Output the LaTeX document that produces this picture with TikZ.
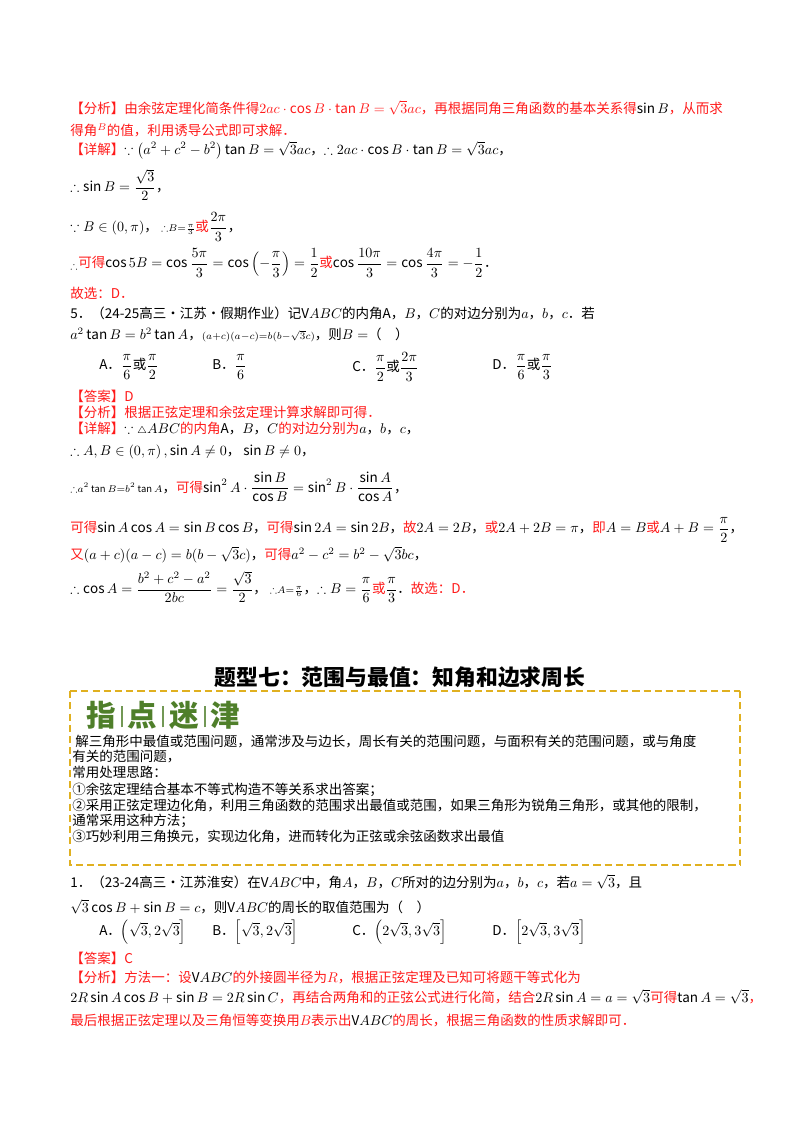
\documentclass[tikz,border=0pt]{standalone}
\usepackage{amsmath,amssymb}
\usepackage{fontspec}
\setmainfont{Noto Sans CJK SC}
\definecolor{rd}{HTML}{FF1A1A}
\definecolor{gold}{HTML}{E0B020}
\definecolor{grn}{HTML}{4F7F2A}
\begin{document}
\begin{tikzpicture}[x=0.025cm,y=-0.025cm,
  t/.style={anchor=west,inner sep=0pt,font=\fontsize{9.6}{11}\selectfont},
  r/.style={t,text=rd},
  gd/.style={gold,line width=1.2pt,dash pattern=on 5pt off 3pt}]
\useasboundingbox (0,0) rectangle (800,1132);
\fill[white] (0,0) rectangle (800,1132);
\node[r] (l1) at (70,108) {【分析】由余弦定理化简条件得$2ac\cdot\cos B\cdot\tan B=\sqrt{3}ac$，再根据同角三角函数的基本关系得\textcolor{black}{$\sin B$}，从而求};
\node[r] (l2) at (70,130) {得角$^{B}$的值，利用诱导公式即可求解．};
\node[t] (l3) at (70,150) {\textcolor{rd}{【详解】}$\because\left(a^2+c^2-b^2\right)\tan B=\sqrt{3}ac$，$\therefore 2ac\cdot\cos B\cdot\tan B=\sqrt{3}ac$，};
\node[t] (l4) at (70,185) {$\therefore\sin B=\dfrac{\sqrt3}{2}$，};
\node[t] (l5) at (70,227) {$\because B\in(0,\pi)$，\ $\scriptstyle\therefore B=\frac{\pi}{3}$\textcolor{rd}{或}$\dfrac{2\pi}{3}$，};
\node[t] (l6) at (70,263) {$_{\therefore}$\textcolor{rd}{可得}$\cos5B=\cos\dfrac{5\pi}{3}=\cos\left(-\dfrac{\pi}{3}\right)=\dfrac12$\textcolor{rd}{或}$\cos\dfrac{10\pi}{3}=\cos\dfrac{4\pi}{3}=-\dfrac12$．};
\node[r] (l7) at (70,293) {故选：D．};
\node[t] (l8) at (70,313) {5．（24-25高三·江苏·假期作业）记V$ABC$的内角A，$B$，$C$的对边分别为$a$，$b$，$c$．若};
\node[t] (l9) at (70,335) {$a^2\tan B=b^2\tan A$，$\scriptstyle (a+c)(a-c)=b(b-\sqrt3c)$，则$B=$（\quad）};
\node[t] (oa) at (99,367) {A．$\dfrac{\pi}{6}$或$\dfrac{\pi}{2}$};
\node[t] (ob) at (212,367) {B．$\dfrac{\pi}{6}$};
\node[t] (oc) at (352,367) {C．$\dfrac{\pi}{2}$或$\dfrac{2\pi}{3}$};
\node[t] (od) at (492,367) {D．$\dfrac{\pi}{6}$或$\dfrac{\pi}{3}$};
\node[r] (m1) at (70,396) {【答案】D};
\node[r] (m2) at (70,412) {【分析】根据正弦定理和余弦定理计算求解即可得．};
\node[r] (m3) at (70,429) {【详解】\textcolor{black}{$\because{\scriptstyle\triangle}ABC$}的内角\textcolor{black}{A，$B$，$C$}的对边分别为\textcolor{black}{$a$，$b$，$c$，}};
\node[t] (m4) at (70,452) {$\therefore A,B\in\left(0,\pi\right),\sin A\neq0$，$\ \sin B\neq0$，};
\node[t] (m5) at (70,487) {$\scriptstyle\therefore a^2\tan B=b^2\tan A$，\textcolor{rd}{可得}$\sin^2A\cdot\dfrac{\sin B}{\cos B}=\sin^2B\cdot\dfrac{\sin A}{\cos A}$，};
\node[t] (m6) at (70,530) {\textcolor{rd}{可得}$\sin A\cos A=\sin B\cos B$，\textcolor{rd}{可得}$\sin2A=\sin2B$，\textcolor{rd}{故}$2A=2B$，\textcolor{rd}{或}$2A+2B=\pi$，\textcolor{rd}{即}$A=B$\textcolor{rd}{或}$A+B=\dfrac{\pi}{2}$，};
\node[t] (m7) at (70,555) {\textcolor{rd}{又}$(a+c)(a-c)=b(b-\sqrt3c)$，\textcolor{rd}{可得}$a^2-c^2=b^2-\sqrt3bc$，};
\node[t] (m8) at (70,587) {$\therefore\cos A=\dfrac{b^2+c^2-a^2}{2bc}=\dfrac{\sqrt3}{2}$，\ $\scriptstyle\therefore A=\frac{\pi}{6}$，$\therefore B=\dfrac{\pi}{6}$\textcolor{rd}{或}$\dfrac{\pi}{3}$．\textcolor{rd}{故选：D．}};
\node[inner sep=0pt,font=\fontsize{15.5}{18}\selectfont\bfseries] (title) at (400,677) {题型七：范围与最值：知角和边求周长};
\draw[gd] (70,691) -- (740,691);
\draw[gd] (70,691) -- (70,865) -- (740,865);
\draw[gd] (740,691) -- (740,865);
\node[anchor=west,inner sep=0pt,text=grn,font=\fontsize{21}{24}\selectfont\bfseries] (zd) at (86,715) {指\,\textcolor{grn!80}{\rule[-1pt]{1.5pt}{15pt}}\,点\,\textcolor{grn!80}{\rule[-1pt]{1.5pt}{15pt}}\,迷\,\textcolor{grn!80}{\rule[-1pt]{1.5pt}{15pt}}\,津};
\node[t] (k1) at (72,742) {\ 解三角形中最值或范围问题，通常涉及与边长，周长有关的范围问题，与面积有关的范围问题，或与角度};
\node[t] (k2) at (72,757) {有关的范围问题，};
\node[t] (k3) at (72,772) {常用处理思路：};
\node[t] (k4) at (72,790) {①余弦定理结合基本不等式构造不等关系求出答案；};
\node[t] (k5) at (72,805) {②采用正弦定理边化角，利用三角函数的范围求出最值或范围，如果三角形为锐角三角形，或其他的限制，};
\node[t] (k6) at (72,821) {通常采用这种方法；};
\node[t] (k7) at (72,836) {③巧妙利用三角换元，实现边化角，进而转化为正弦或余弦函数求出最值};
\node[t] (p1) at (70,882) {1．（23-24高三·江苏淮安）在V$ABC$中，角$A$，$B$，$C$所对的边分别为$a$，$b$，$c$，若$a=\sqrt3$，且};
\node[t] (p2) at (70,907) {$\sqrt3\cos B+\sin B=c$，则V$ABC$的周长的取值范围为（\quad）};
\node[t] (pa) at (99,932) {A．$\left(\sqrt3,2\sqrt3\right]$};
\node[t] (pb) at (212,932) {B．$\left[\sqrt3,2\sqrt3\right]$};
\node[t] (pc) at (352,932) {C．$\left(2\sqrt3,3\sqrt3\right]$};
\node[t] (pd) at (492,932) {D．$\left[2\sqrt3,3\sqrt3\right]$};
\node[r] (q1) at (70,958) {【答案】C};
\node[r] (q2) at (70,977) {【分析】方法一：设\textcolor{black}{V$ABC$}的外接圆半径为$R$，根据正弦定理及已知可将题干等式化为};
\node[r] (q3) at (70,997) {\textcolor{black}{$2R\sin A\cos B+\sin B=2R\sin C$}，再结合两角和的正弦公式进行化简，结合\textcolor{black}{$2R\sin A=a=\sqrt3$}可得\textcolor{black}{$\tan A=\sqrt3$}，};
\node[r] (q4) at (70,1020) {最后根据正弦定理以及三角恒等变换用$B$表示出\textcolor{black}{V$ABC$}的周长，根据三角函数的性质求解即可．};
\end{tikzpicture}
\end{document}
